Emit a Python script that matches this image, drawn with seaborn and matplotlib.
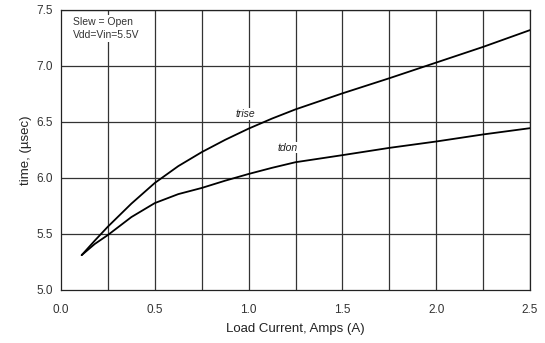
import matplotlib
matplotlib.use("Agg")
import matplotlib.pyplot as plt
import seaborn as sns
import pandas as pd

# Switching times vs. load current
load_current = [0.11, 0.18, 0.25, 0.375, 0.5, 0.625, 0.75, 0.875, 1.0, 1.125,
                1.25, 1.5, 1.75, 2.0, 2.25, 2.5]
trise = [5.31, 5.44, 5.565, 5.77, 5.955, 6.105, 6.23, 6.34, 6.44, 6.53,
         6.612, 6.755, 6.89, 7.03, 7.17, 7.32]
tdon = [5.31, 5.41, 5.49, 5.65, 5.775, 5.855, 5.91, 5.975, 6.035, 6.09,
        6.14, 6.203, 6.268, 6.325, 6.388, 6.444]

x_ticks = [0.0, 0.5, 1.0, 1.5, 2.0, 2.5]
y_ticks = [5.0, 5.5, 6.0, 6.5, 7.0, 7.5]

df = pd.DataFrame({
    "current": load_current * 2,
    "time": trise + tdon,
    "series": ["trise"] * len(load_current) + ["tdon"] * len(load_current),
})

sns.set_style("white")
plt.rcParams["font.family"] = ["Liberation Sans", "DejaVu Sans"]

fig = plt.figure(figsize=(5.45, 3.43), dpi=100)
ax = fig.add_axes([0.112, 0.155, 0.8605, 0.816])

sns.lineplot(data=df, x="current", y="time", units="series", estimator=None,
             color="black", lw=1.3, ax=ax, legend=False)

ax.set_xlim(0, 2.5)
ax.set_ylim(5.0, 7.5)

# grid: verticals every 0.25 A, horizontals every 0.5 us
for xv in [i * 0.25 for i in range(1, 11)]:
    ax.axvline(xv, color="#333333", lw=0.9, zorder=0)
for yv in y_ticks[1:]:
    ax.axhline(yv, color="#333333", lw=0.9, zorder=0)

for s in ax.spines.values():
    s.set_color("#222222")
    s.set_linewidth(0.9)

ax.set_xticks(x_ticks)
ax.set_xticklabels([f"{v:.1f}" for v in x_ticks])
ax.set_yticks(y_ticks)
ax.set_yticklabels([f"{v:.1f}" for v in y_ticks])
ax.tick_params(axis="x", length=0, labelsize=8.5, colors="#333333", pad=10)
ax.tick_params(axis="y", length=0, labelsize=8.5, colors="#333333", pad=6)

ax.set_xlabel("Load Current, Amps (A)", fontsize=9.5, color="#222222", labelpad=5)
ax.set_ylabel("time, (\u00b5sec)", fontsize=9.5, color="#222222", labelpad=3)

ax.text(0.98, 6.57, "trise", fontsize=7.5, style="italic", ha="center", va="center",
        color="#222222", bbox=dict(facecolor="white", edgecolor="none", pad=0.5))
ax.text(1.21, 6.27, "tdon", fontsize=7.5, style="italic", ha="center", va="center",
        color="#222222", bbox=dict(facecolor="white", edgecolor="none", pad=0.5))
ax.text(0.065, 7.44, "Slew = Open\nVdd=Vin=5.5V", fontsize=7.5, ha="left", va="top",
        color="#333333", linespacing=1.45,
        bbox=dict(facecolor="white", edgecolor="none", pad=1))

fig.savefig("out.png", dpi=100)
